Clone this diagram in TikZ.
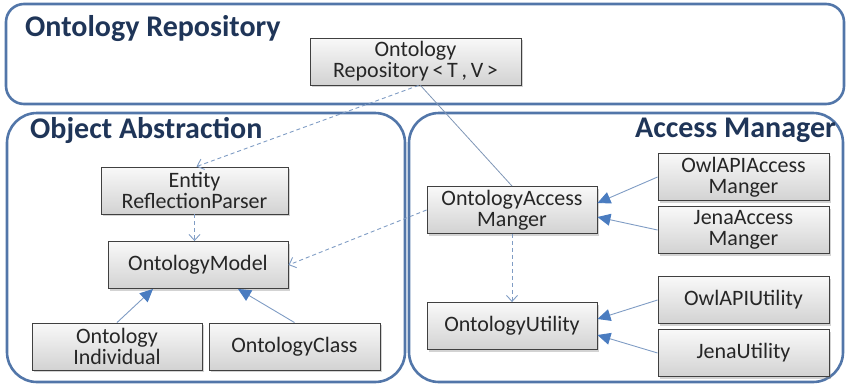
\documentclass[tikz,border=0pt]{standalone}
\usepackage{fontspec}
\setmainfont{Carlito}
\usetikzlibrary{arrows.meta,shadows}
\definecolor{framecol}{HTML}{5276A9}
\definecolor{titlecol}{HTML}{1F3558}
\definecolor{linkcol}{HTML}{7F9CC4}
\definecolor{tipcol}{HTML}{4A7CC0}
\tikzset{
  umlnode/.style = {align=center, inner sep=0pt, text centered,
    font=\fontsize{22}{21}\selectfont, text=black!85},
  uml_box/.style = {umlnode, rectangle, draw=black!75, line width=0.9pt,
    top color=gray!5, bottom color=gray!35,
    drop shadow={shadow xshift=2pt, shadow yshift=-2pt, opacity=0.35},
    minimum width=171pt, minimum height=47pt},
  uml_frame/.style = {draw=framecol, line width=2.6pt},
  uml_title/.style = {inner sep=0pt, text=titlecol,
    font=\fontsize{30}{30}\selectfont\bfseries},
  uml_inh/.style = {draw=linkcol, line width=0.9pt,
    -{Triangle[length=13pt,width=12pt,fill=tipcol,color=tipcol]}},
  uml_dep/.style = {draw=linkcol, line width=0.9pt, dash pattern=on 4pt off 3pt,
    -{Straight Barb[length=6pt,width=11pt]}},
  uml_assoc/.style = {draw=linkcol!80!gray, line width=0.8pt}
}
\begin{document}
\begin{tikzpicture}[x=1pt,y=-1pt]
  \useasboundingbox (0,0) rectangle (850,389);
  % frames
  \draw[uml_frame, rounded corners=18pt] (6,4) rectangle (844,104);
  \draw[uml_frame, rounded corners=30pt] (7,113) rectangle (405,382);
  \draw[uml_frame, rounded corners=30pt] (409,113) rectangle (843,382);
  \node[uml_title, anchor=base west] (t_repo) at (25,36) {Ontology Repository};
  \node[uml_title, anchor=base west] (t_obj) at (30,138) {Object Abstraction};
  \node[uml_title, anchor=base east] (t_acc) at (836,137) {Access Manager};
  % classes
  \node[uml_box, minimum width=211pt] (repo) at (415.5,61.5) {Ontology\\Repository\,<\,T\,,\,V\,>};
  \node[uml_box, minimum width=187pt] (erp) at (194.5,190.5) {Entity\\ReflectionParser};
  \node[uml_box, minimum width=180pt] (model) at (198,265) {OntologyModel};
  \node[uml_box, minimum width=170pt] (indiv) at (117,346.5) {Ontology\\Individual};
  \node[uml_box] (ocls) at (294.5,346.5) {OntologyClass};
  \node[uml_box, minimum width=170pt] (oam) at (512,210) {OntologyAccess\\Manger};
  \node[uml_box] (owlam) at (743.5,177) {OwlAPIAccess\\Manger};
  \node[uml_box] (jenaam) at (743.5,230) {JenaAccess\\Manger};
  \node[uml_box, minimum width=170pt] (outil) at (512,326) {OntologyUtility};
  \node[uml_box] (owlu) at (743.5,300) {OwlAPIUtility};
  \node[uml_box] (jenau) at (743.5,353) {JenaUtility};
  % links
  \draw[uml_dep] ([xshift=3pt]repo.south) -- ([xshift=2pt]erp.north);
  \draw[uml_assoc] ([xshift=5pt]repo.south) -- (oam.north);
  \draw[uml_dep] (erp.south) -- (erp.south |- model.north);
  \draw[uml_dep] (oam.west) -- (model.east);
  \draw[uml_dep] (oam.south) -- (outil.north);
  \draw[uml_inh] (owlam.west) -- ([yshift=7pt]oam.east);
  \draw[uml_inh] (jenaam.west) -- ([yshift=-7pt]oam.east);
  \draw[uml_inh] (owlu.west) -- ([yshift=7pt]outil.east);
  \draw[uml_inh] (jenau.west) -- ([yshift=-9pt]outil.east);
  \draw[uml_inh] (indiv.north) -- ([xshift=-45pt]model.south);
  \draw[uml_inh] (ocls.north) -- ([xshift=40pt]model.south);
\end{tikzpicture}
\end{document}
